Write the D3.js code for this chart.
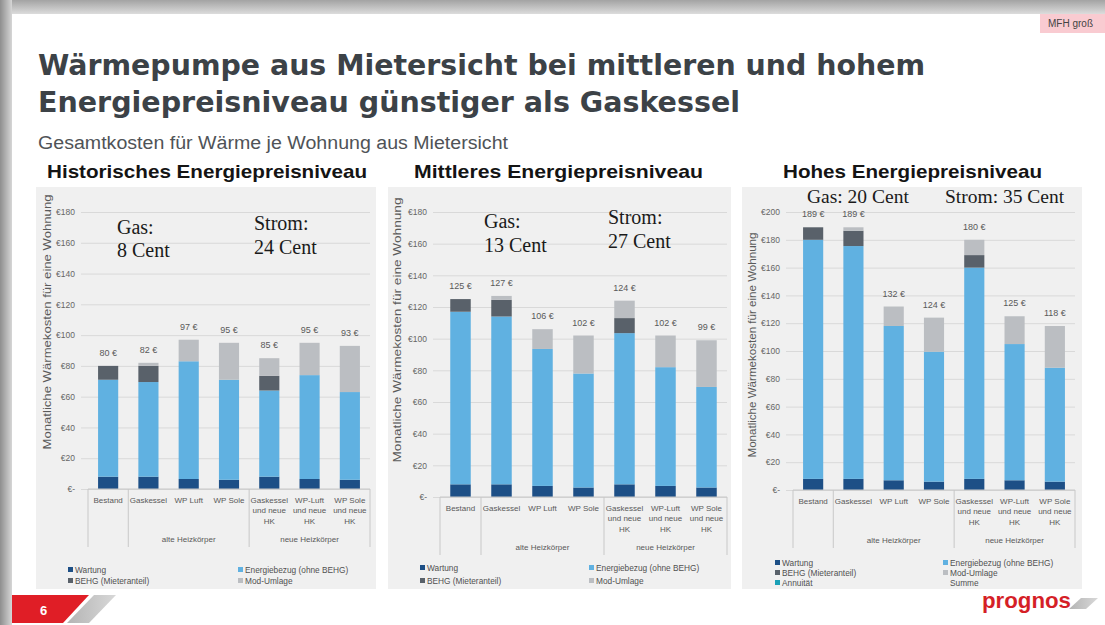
<!DOCTYPE html>
<html>
<head>
<meta charset="utf-8">
<script src="https://cdn.jsdelivr.net/npm/d3@7"></script>
<style>
body { margin: 0; background: #fff; }
svg { display: block; }
</style>
</head>
<body>
<script>
// categories and groups (shared by all three panels)
var categories = [["Bestand"], ["Gaskessel"], ["WP Luft"], ["WP Sole"],
	["Gaskessel", "und neue", "HK"], ["WP-Luft", "und neue", "HK"], ["WP Sole", "und neue", "HK"]];
var groupLabels = ["alte Heizkörper", "neue Heizkörper"];
var groupStart = [1, 4];
var groupEnd = [4, 7];

var keys = ["wartung", "energie", "behg", "mod"];
var seriesNames = ["Wartung", "Energiebezug (ohne BEHG)", "BEHG (Mieteranteil)", "Mod-Umlage"];

// Historisches Energiepreisniveau
var histWartung = [8, 8, 6.5, 6, 8, 6.5, 6];
var histEnergie = [63, 61.5, 76.5, 65, 56, 67.5, 57];
var histBehg = [9, 10.5, 0, 0, 9.5, 0, 0];
var histMod = [0, 2, 14, 24, 11.5, 21, 30];
var histTotal = [80, 82, 97, 95, 85, 95, 93];

// Mittleres Energiepreisniveau
var mittWartung = [8, 8, 7, 6, 8, 7, 6];
var mittEnergie = [109, 106, 86.5, 72, 95.5, 75, 63.5];
var mittBehg = [8, 10.5, 0, 0, 9.5, 0, 0];
var mittMod = [0, 2.5, 12.5, 24, 11, 20, 29.5];
var mittTotal = [125, 127, 106, 102, 124, 102, 99];

// Hohes Energiepreisniveau
var hochWartung = [8, 8, 7, 6, 8, 7, 6];
var hochEnergie = [172, 167.5, 111, 93.5, 152, 98, 82];
var hochBehg = [9, 11, 0, 0, 9, 0, 0];
var hochMod = [0, 2.5, 14, 24.5, 11, 20, 30];
var hochTotal = [189, 189, 132, 124, 180, 125, 118];

var ticks180 = [0, 20, 40, 60, 80, 100, 120, 140, 160, 180];
var ticks200 = [0, 20, 40, 60, 80, 100, 120, 140, 160, 180, 200];

var colors = ["#1d4f86", "#60b1e1", "#59616a", "#bbbec2"];
var annuitaetColor = "#1aa0b6";

var W = 1105, H = 625;
var sans = "'Liberation Sans', Arial, sans-serif";
var serif = "'Liberation Serif', 'Times New Roman', serif";

var svg = d3.select("body").append("svg")
	.attr("width", W)
	.attr("height", H);

var defs = svg.append("defs");
var gl = defs.append("linearGradient").attr("id", "leftGrad").attr("x1", 0).attr("x2", 1).attr("y1", 0).attr("y2", 0);
gl.append("stop").attr("offset", "0%").attr("stop-color", "#8e8e8e");
gl.append("stop").attr("offset", "100%").attr("stop-color", "#d6d6d6");
var gt = defs.append("linearGradient").attr("id", "topGrad").attr("x1", 0).attr("x2", 0).attr("y1", 0).attr("y2", 1);
gt.append("stop").attr("offset", "0%").attr("stop-color", "#a3a3a3");
gt.append("stop").attr("offset", "100%").attr("stop-color", "#dcdcdc");
var gs = defs.append("linearGradient").attr("id", "stripeGrad").attr("x1", 0).attr("x2", 1).attr("y1", 0).attr("y2", 0);
gs.append("stop").attr("offset", "0%").attr("stop-color", "#b4b4b4");
gs.append("stop").attr("offset", "100%").attr("stop-color", "#d8d8d8");

// slide frame
svg.append("rect").attr("width", W).attr("height", H).attr("fill", "#c4c4c4");
svg.append("rect").attr("x", 0).attr("y", 0).attr("width", W).attr("height", 14).attr("fill", "url(#topGrad)");
svg.append("rect").attr("x", 0).attr("y", 0).attr("width", 12).attr("height", H).attr("fill", "url(#leftGrad)");
svg.append("rect").attr("x", 12).attr("y", 14).attr("width", W - 12).attr("height", H - 14).attr("fill", "#fff");

// tag top right
svg.append("rect").attr("x", 1040).attr("y", 14).attr("width", 65).attr("height", 19).attr("fill", "#f9cbd1");
svg.append("text").attr("x", 1048).attr("y", 27).attr("font-family", sans).attr("font-size", 10)
	.attr("fill", "#444").text("MFH groß");

// titles
svg.append("text").attr("x", 38).attr("y", 75)
	.attr("font-family", "'DejaVu Sans', sans-serif").attr("font-weight", "bold").attr("font-size", 28.5)
	.attr("fill", "#3c4247").attr("textLength", 887).attr("lengthAdjust", "spacingAndGlyphs")
	.text("Wärmepumpe aus Mietersicht bei mittleren und hohem");
svg.append("text").attr("x", 38).attr("y", 112)
	.attr("font-family", "'DejaVu Sans', sans-serif").attr("font-weight", "bold").attr("font-size", 28.5)
	.attr("fill", "#3c4247").attr("textLength", 702).attr("lengthAdjust", "spacingAndGlyphs")
	.text("Energiepreisniveau günstiger als Gaskessel");
svg.append("text").attr("x", 38).attr("y", 149)
	.attr("font-family", sans).attr("font-size", 18)
	.attr("fill", "#4f5357").attr("textLength", 470).attr("lengthAdjust", "spacingAndGlyphs")
	.text("Gesamtkosten für Wärme je Wohnung aus Mietersicht");

var panels = [
	{
		title: "Historisches Energiepreisniveau", tx: 47, tlen: 320,
		bg: [36, 376], x0: 88, x1: 370, y0: 489, y1: 212, max: 180, ticks: ticks180,
		ytx: 47, yty: 322, ytlen: 255,
		series: [histWartung, histEnergie, histBehg, histMod], total: histTotal,
		notes: [["Gas:", 117, 234], ["8 Cent", 117, 257], ["Strom:", 254, 230], ["24 Cent", 254, 254]],
		noteSize: 20,
		legL: 68, legR: 238, legY: [570, 581], annuitaet: false
	},
	{
		title: "Mittleres Energiepreisniveau", tx: 414, tlen: 289,
		bg: [388, 731], x0: 440, x1: 727, y0: 497, y1: 212, max: 180, ticks: ticks180,
		ytx: 397, yty: 330, ytlen: 265,
		series: [mittWartung, mittEnergie, mittBehg, mittMod], total: mittTotal,
		notes: [["Gas:", 484, 228], ["13 Cent", 484, 252], ["Strom:", 608, 224], ["27 Cent", 608, 248]],
		noteSize: 20,
		legL: 420, legR: 589, legY: [568, 581], annuitaet: false
	},
	{
		title: "Hohes Energiepreisniveau", tx: 783, tlen: 259,
		bg: [742, 1082], x0: 793, x1: 1075, y0: 490, y1: 212, max: 200, ticks: ticks200,
		ytx: 752, yty: 345, ytlen: 225,
		series: [hochWartung, hochEnergie, hochBehg, hochMod], total: hochTotal,
		notes: [["Gas: 20 Cent", 807, 203], ["Strom: 35 Cent", 945, 203]],
		noteSize: 19.5,
		legL: 775, legR: 943, legY: [563, 573, 583], annuitaet: true
	}
];

function euro(d) { return d === 0 ? "€-" : "€" + d; }

panels.forEach(function(p) {
	var g = svg.append("g").classed("panel", true);

	g.append("rect")
		.attr("x", p.bg[0]).attr("y", 187)
		.attr("width", p.bg[1] - p.bg[0]).attr("height", 402)
		.attr("fill", "#f0f0f0");

	g.append("text").attr("x", p.tx).attr("y", 178)
		.attr("font-family", sans).attr("font-weight", "bold").attr("font-size", 19)
		.attr("fill", "#141414").attr("textLength", p.tlen).attr("lengthAdjust", "spacingAndGlyphs")
		.text(p.title);

	var x = d3.scaleBand()
		.domain(d3.range(categories.length))
		.range([p.x0, p.x1])
		.paddingInner(0.5)
		.paddingOuter(0.25);
	var y = d3.scaleLinear().domain([0, p.max]).range([p.y0, p.y1]);

	var yAxis = d3.axisLeft(y)
		.tickValues(p.ticks)
		.tickSize(-(p.x1 - p.x0 + 7))
		.tickPadding(6)
		.tickFormat(euro);
	var ax = g.append("g")
		.attr("transform", "translate(" + (p.x0 - 7) + ",0)")
		.call(yAxis);
	ax.select(".domain").remove();
	ax.selectAll(".tick line").attr("stroke", "#d9d9d9");
	ax.selectAll(".tick text")
		.attr("font-family", sans).attr("font-size", 8.5).attr("fill", "#666");

	// y axis title
	g.append("text")
		.attr("transform", "translate(" + p.ytx + "," + p.yty + ") rotate(-90)")
		.attr("text-anchor", "middle").attr("dy", "0.35em")
		.attr("font-family", sans).attr("font-size", 10).attr("fill", "#5a5a5a")
		.attr("textLength", p.ytlen).attr("lengthAdjust", "spacingAndGlyphs")
		.text("Monatliche Wärmekosten für eine Wohnung");

	// stacked bars
	var rows = categories.map(function(c, i) {
		var r = {};
		keys.forEach(function(k, j) { r[k] = p.series[j][i]; });
		return r;
	});
	var layers = d3.stack().keys(keys)(rows);
	g.selectAll("g.layer").data(layers).enter()
		.append("g").classed("layer", true)
		.attr("fill", function(d, i) { return colors[i]; })
		.selectAll("rect").data(function(d) { return d; }).enter()
		.append("rect")
		.attr("x", function(d, i) { return x(i); })
		.attr("width", x.bandwidth())
		.attr("y", function(d) { return y(d[1]); })
		.attr("height", function(d) { return y(d[0]) - y(d[1]); });

	// value labels
	g.selectAll("text.val").data(p.total).enter()
		.append("text").classed("val", true)
		.attr("x", function(d, i) { return x(i) + x.bandwidth() / 2; })
		.attr("y", function(d) { return y(d) - 10; })
		.attr("text-anchor", "middle")
		.attr("font-family", sans).attr("font-size", 9).attr("fill", "#595959")
		.text(function(d) { return d + " €"; });

	// category axis
	g.append("line")
		.attr("x1", p.x0).attr("x2", p.x1).attr("y1", p.y0).attr("y2", p.y0)
		.attr("stroke", "#c8c8c8");
	[0, 1, 4, 7].forEach(function(b) {
		var bx = p.x0 + b * x.step();
		g.append("line")
			.attr("x1", bx).attr("x2", bx).attr("y1", p.y0).attr("y2", p.y0 + 58)
			.attr("stroke", "#c8c8c8");
	});
	var cat = g.selectAll("text.cat").data(categories).enter()
		.append("text").classed("cat", true)
		.attr("text-anchor", "middle")
		.attr("font-family", sans).attr("font-size", 8).attr("fill", "#595959");
	cat.selectAll("tspan").data(function(d, i) {
		return d.map(function(line, j) { return {line: line, i: i, j: j}; });
	}).enter()
		.append("tspan")
		.attr("x", function(d) { return x(d.i) + x.bandwidth() / 2; })
		.attr("y", function(d) { return p.y0 + 13.5 + d.j * 10.5; })
		.text(function(d) { return d.line; });
	groupLabels.forEach(function(name, k) {
		g.append("text")
			.attr("x", p.x0 + (groupStart[k] + groupEnd[k]) / 2 * x.step())
			.attr("y", p.y0 + 53)
			.attr("text-anchor", "middle")
			.attr("font-family", sans).attr("font-size", 8).attr("fill", "#595959")
			.text(name);
	});

	// price notes
	p.notes.forEach(function(n) {
		g.append("text").attr("x", n[1]).attr("y", n[2])
			.attr("font-family", serif).attr("font-size", p.noteSize).attr("fill", "#1a1a1a")
			.text(n[0]);
	});

	// legend
	var leg = [
		{name: seriesNames[0], color: colors[0], x: p.legL, row: 0},
		{name: seriesNames[2], color: colors[2], x: p.legL, row: 1},
		{name: seriesNames[1], color: colors[1], x: p.legR, row: 0},
		{name: seriesNames[3], color: colors[3], x: p.legR, row: 1}
	];
	if (p.annuitaet) {
		leg.push({name: "Annuität", color: annuitaetColor, x: p.legL, row: 2});
		leg.push({name: "Summe", color: null, x: p.legR, row: 2});
	}
	var li = g.selectAll("g.leg").data(leg).enter()
		.append("g").classed("leg", true)
		.attr("transform", function(d) { return "translate(" + d.x + "," + p.legY[d.row] + ")"; });
	li.filter(function(d) { return d.color; }).append("rect")
		.attr("x", 0).attr("y", -3).attr("width", 5).attr("height", 5)
		.attr("fill", function(d) { return d.color; });
	li.append("text").attr("x", 7).attr("y", 3)
		.attr("font-family", sans).attr("font-size", 8.3).attr("fill", "#505050")
		.text(function(d) { return d.name; });
});

// footer
svg.append("path").attr("d", "M12,595 L89,595 L63,623 L12,623 Z").attr("fill", "#e01e26");
svg.append("path").attr("d", "M94,595 L116,595 L89,623 L67,623 Z").attr("fill", "url(#stripeGrad)");
svg.append("text").attr("x", 40).attr("y", 615)
	.attr("font-family", sans).attr("font-weight", "bold").attr("font-size", 13)
	.attr("fill", "#fff").text("6");
svg.append("text").attr("x", 982).attr("y", 608)
	.attr("font-family", sans).attr("font-weight", "bold").attr("font-size", 22.5)
	.attr("fill", "#d51f27").attr("textLength", 89).attr("lengthAdjust", "spacingAndGlyphs")
	.text("prognos");
svg.append("path").attr("d", "M1081,598 L1098,598 L1086,609 L1069,609 Z").attr("fill", "url(#stripeGrad)");
</script>
</body>
</html>
